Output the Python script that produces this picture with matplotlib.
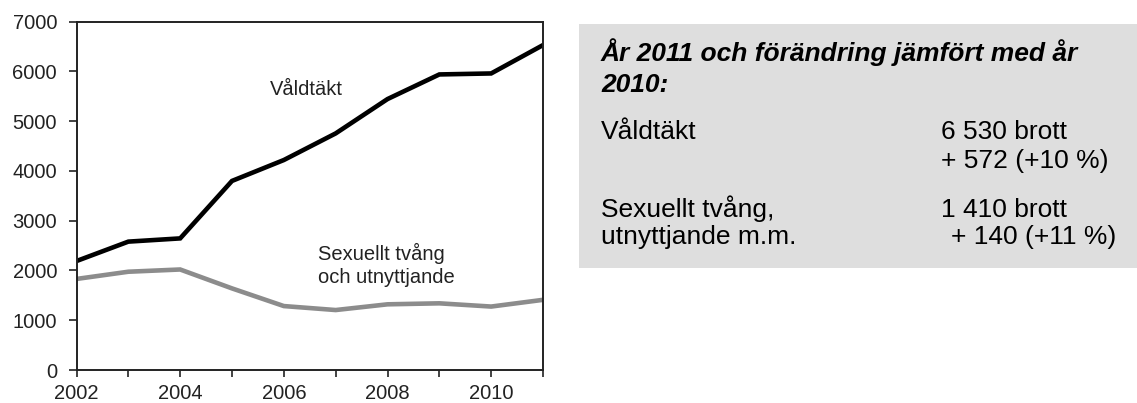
import matplotlib.pyplot as plt
from matplotlib.patches import Rectangle

plt.rcParams['font.family'] = ['Liberation Sans', 'DejaVu Sans']

years = [2002, 2003, 2004, 2005, 2006, 2007, 2008, 2009, 2010, 2011]
valdtakt = [2190, 2580, 2645, 3800, 4220, 4755, 5445, 5940, 5960, 6530]
sexuellt = [1830, 1975, 2020, 1640, 1285, 1205, 1320, 1340, 1275, 1410]

y_ticks = [0, 1000, 2000, 3000, 4000, 5000, 6000, 7000]
x_ticks = [2002, 2004, 2006, 2008, 2010]

W, H = 1137, 403
fig = plt.figure(figsize=(W / 100, H / 100), dpi=100)
ax = fig.add_axes([76.5 / W, 1 - 370 / H, (543 - 76.5) / W, (370 - 21.7) / H])

ax.plot(years, valdtakt, color="black", lw=3.3, solid_joinstyle="miter")
ax.plot(years, sexuellt, color="#8c8c8c", lw=3.3, solid_joinstyle="miter")

ax.set_xlim(2002, 2011)
ax.set_ylim(0, 7000)
ax.set_yticks(y_ticks)
ax.set_xticks(x_ticks)
ax.set_xticks(years, minor=True)
ax.tick_params(axis="both", which="both", direction="out", width=1.2,
               labelsize=14.5, color="#222222", labelcolor="#222222")
ax.tick_params(axis="x", which="both", length=5, pad=5)
ax.tick_params(axis="y", length=6, pad=8)
for s in ax.spines.values():
    s.set_color("#222222")
    s.set_linewidth(1.4)

ax.text(2005.74, 5647, "Våldtäkt", fontsize=14.5, color="#222222", va="center")
ax.text(2006.66, 2110, "Sexuellt tvång\noch utnyttjande", fontsize=14.5,
        color="#222222", va="center", linespacing=1.25)

# info box
fig.patches.append(Rectangle((579 / W, 1 - 268 / H), 1 - 579 / W, (268 - 24) / H,
                             transform=fig.transFigure, facecolor="#dedede",
                             edgecolor="none", zorder=0))

def ft(px, py, s, **kw):
    fig.text(px / W, 1 - py / H, s, fontsize=19, va="baseline", color="black", **kw)

ft(601, 61, "År 2011 och förändring jämfört med år", fontweight="bold", fontstyle="italic")
ft(601, 92, "2010:", fontweight="bold", fontstyle="italic")
ft(601, 139, "Våldtäkt")
ft(941, 139, "6 530 brott")
ft(941, 168, "+ 572 (+10 %)")
ft(601, 217, "Sexuellt tvång,")
ft(601, 244, "utnyttjande m.m.")
ft(941, 217, "1 410 brott")
ft(951, 244, "+ 140 (+11 %)")

fig.savefig("out.png", dpi=100)
